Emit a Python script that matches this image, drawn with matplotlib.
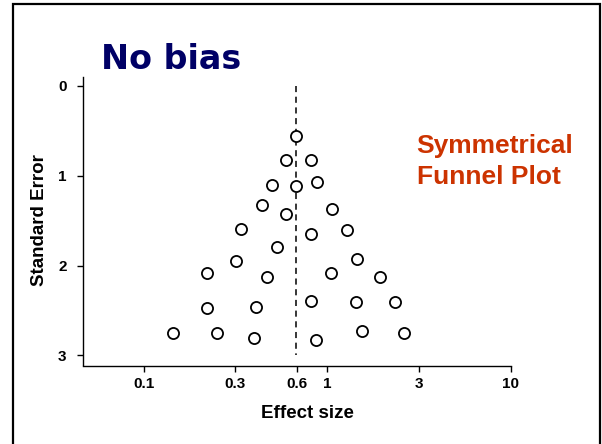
import matplotlib
matplotlib.use("Agg")
import matplotlib.pyplot as plt
from matplotlib.patches import Rectangle

# ---- data ----
effect_size = [0.68, 0.60, 0.82, 0.50, 0.68, 0.88, 0.44, 0.60, 1.06, 0.34,
               0.82, 1.29, 0.53, 0.32, 1.45, 0.22, 0.47, 1.05, 1.95, 0.22,
               0.41, 0.82, 1.44, 2.34, 0.144, 0.25, 0.40, 0.87, 1.54, 2.64]
std_error = [0.556, 0.83, 0.83, 1.105, 1.112, 1.075, 1.323, 1.43, 1.368, 1.594,
             1.65, 1.605, 1.794, 1.95, 1.928, 2.087, 2.132, 2.087, 2.132, 2.473,
             2.465, 2.391, 2.41, 2.41, 2.747, 2.747, 2.81, 2.832, 2.725, 2.747]
pooled_effect = 0.68
x_tick_values = [0.1, 0.316, 0.684, 1.0, 3.16, 10.0]
x_tick_labels = ["0.1", "0.3", "0.6", "1", "3", "10"]
y_ticks = [0, 1, 2, 3]

W, H = 602, 444
fig = plt.figure(figsize=(W / 100, H / 100), dpi=100)
fig.patch.set_facecolor("white")

# outer slide border (bottom edge off-canvas)
fig.patches.append(Rectangle((13 / W, -0.05), (600 - 13) / W, (1 - 4 / H) + 0.05,
                             transform=fig.transFigure, fill=False,
                             edgecolor="black", linewidth=1.6, clip_on=False))

ax_left, ax_right = 82.5 / W, 510.5 / W
ax_top, ax_bottom = 1 - 77 / H, 1 - 365.5 / H
ax = fig.add_axes([ax_left, ax_bottom, ax_right - ax_left, ax_top - ax_bottom])

ax.set_xscale("log")
ax.set_xlim(10 ** -1.334, 10.0)
ax.set_ylim(3.112, -0.097)

ax.vlines(pooled_effect, 0, 3, colors="black", linestyles=(0, (4, 3)), linewidth=1.1)
ax.plot(effect_size, std_error, linestyle="none", marker="o", markersize=8,
        markerfacecolor="white", markeredgecolor="black", markeredgewidth=1.3)

for s in ["top", "right"]:
    ax.spines[s].set_visible(False)
for s in ["left", "bottom"]:
    ax.spines[s].set_linewidth(1.0)

ax.xaxis.set_minor_locator(matplotlib.ticker.NullLocator())
ax.set_xticks(x_tick_values)
ax.set_xticklabels(x_tick_labels)
ax.set_yticks(y_ticks)
ax.set_yticklabels([str(t) for t in y_ticks])
ax.tick_params(axis="both", direction="out", length=4.5, width=1.0)
ax.tick_params(axis="x", pad=4)
ax.tick_params(axis="y", pad=7)
for lab in ax.get_xticklabels() + ax.get_yticklabels():
    lab.set_fontfamily("Liberation Sans")
    lab.set_fontweight("bold")
    lab.set_fontsize(11)

ax.set_xlabel("Effect size", fontfamily="Liberation Sans", fontweight="bold", fontsize=13.5)
ax.xaxis.set_label_coords((307.5 - 82.5) / 428, -(417.7 - 365.5) / 288.5)
ax.xaxis.label.set_va("baseline")
ax.set_ylabel("Standard Error", fontfamily="Liberation Sans", fontweight="bold", fontsize=13.5)
ax.yaxis.set_label_coords((40 - 82.5) / 428, (365.5 - 220) / 288.5)
ax.yaxis.label.set_va("center")

fig.text(170.8 / W, 1 - 69.3 / H, "No bias", fontfamily="DejaVu Sans", fontweight="bold",
         fontsize=24, color="#000066", ha="center", va="baseline")
fig.text(416.7 / W, 1 - 153 / H, "Symmetrical", fontfamily="Liberation Sans",
         fontweight="bold", fontsize=19, color="#CC3300", ha="left", va="baseline")
fig.text(416.7 / W, 1 - 184 / H, "Funnel Plot", fontfamily="Liberation Sans",
         fontweight="bold", fontsize=19, color="#CC3300", ha="left", va="baseline")

fig.savefig("out.png", dpi=100)
